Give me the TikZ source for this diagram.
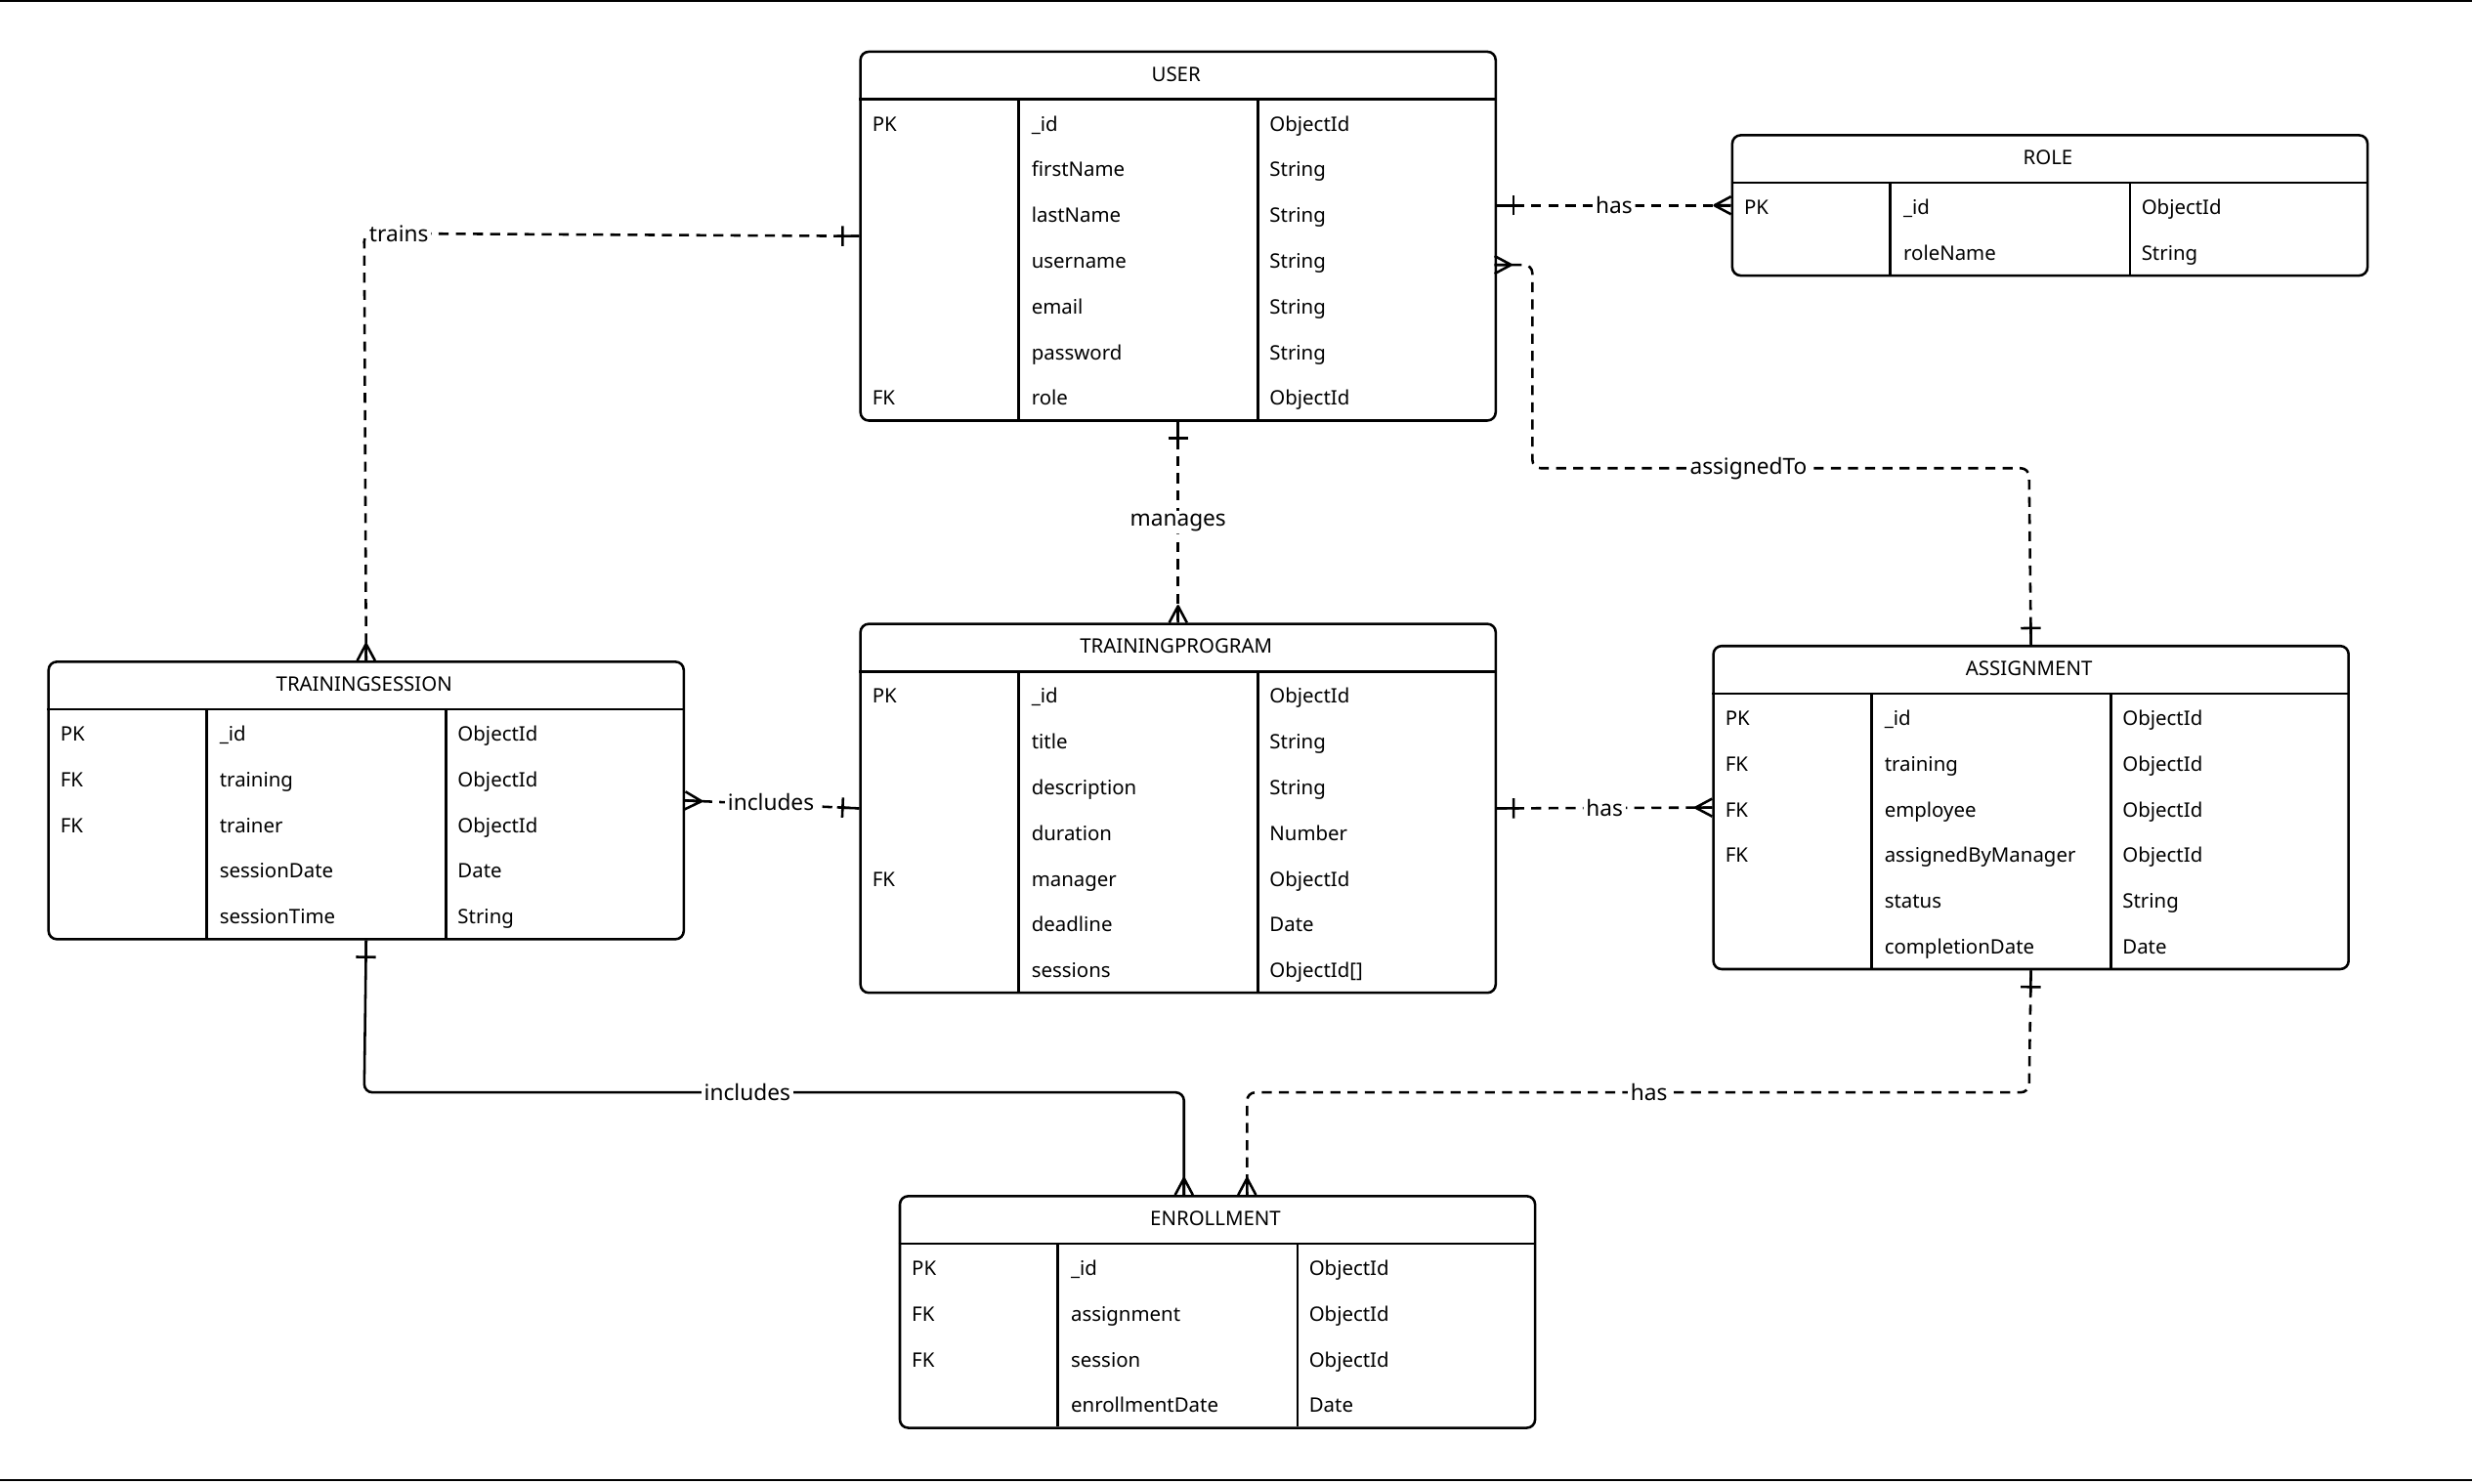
\documentclass[tikz,border=0pt]{standalone}
\usepackage{fontspec}
\setmainfont{Noto Sans}
\usetikzlibrary{calc}

% crow's foot tips
\pgfarrowsdeclare{ercrow}{ercrow}{\pgfarrowsleftextend{0pt}\pgfarrowsrightextend{0pt}}{%
  \pgfsetdash{}{0pt}\pgfsetroundjoin
  \pgfpathmoveto{\pgfpoint{0pt}{3.2pt}}
  \pgfpathlineto{\pgfpoint{-6pt}{0pt}}
  \pgfpathlineto{\pgfpoint{0pt}{-3.2pt}}
  \pgfpathmoveto{\pgfpoint{-6pt}{0pt}}
  \pgfpathlineto{\pgfpoint{0pt}{0pt}}
  \pgfusepathqstroke}
\pgfarrowsdeclare{erone}{erone}{\pgfarrowsleftextend{0pt}\pgfarrowsrightextend{0pt}}{%
  \pgfsetdash{}{0pt}
  \pgfpathmoveto{\pgfpoint{-6pt}{3.6pt}}
  \pgfpathlineto{\pgfpoint{-6pt}{-3.6pt}}
  \pgfpathmoveto{\pgfpoint{-8pt}{0pt}}
  \pgfpathlineto{\pgfpoint{0pt}{0pt}}
  \pgfusepathqstroke}

\tikzset{
  entity/.style={draw, rounded corners=3pt, line width=0.9pt, inner sep=0pt,
    anchor=north west, minimum width=8.06cm},
  cell/.style={anchor=west, inner sep=0pt, text height=1.6ex, text depth=0.4ex,
    font=\fontsize{7.2}{8}\selectfont},
  rel/.style={line width=0.9pt, rounded corners=3pt},
  dashrel/.style={rel, dash pattern=on 3.6pt off 2.6pt},
  lbl/.style={fill=white, inner sep=1pt, font=\fontsize{8}{9}\selectfont}
}

% name, title, x, y, number of rows, rows
\newcommand\entity[6]{%
  \node[entity, minimum height={(31+29*#5)*0.02cm}] (#1) at (#3,#4) {};
  \node[font=\fontsize{7.2}{8}\selectfont] at (#3+201,#4+15) {#2};
  \draw[line width=0.9pt] (#3,#4+31) -- ++(403,0);
  \draw[line width=0.9pt] (#3+101,#4+31) -- ++(0,29*#5);
  \draw[line width=0.9pt] (#3+253,#4+31) -- ++(0,29*#5);
  \foreach \k/\f/\t [count=\i] in {#6} {
    \node[cell] at (#3+8,#4+31+29*\i-14.5) {\k};
    \node[cell] at (#3+109,#4+31+29*\i-14.5) {\f};
    \node[cell] at (#3+260,#4+31+29*\i-14.5) {\t};
  }
}

\begin{document}
\begin{tikzpicture}[x=0.02cm, y=-0.02cm]
  \useasboundingbox (0,0) rectangle (1568,941);
  \draw[line width=0.8pt] (0,0.5) -- (1568,0.5);
  \draw[line width=0.8pt] (0,939) -- (1568,939);

  \entity{user}{USER}{545}{32}{7}{PK/\_id/ObjectId, /firstName/String, /lastName/String,
    /username/String, /email/String, /password/String, FK/role/ObjectId}
  \entity{role}{ROLE}{1098}{85}{2}{PK/\_id/ObjectId, /roleName/String}
  \entity{tsession}{TRAININGSESSION}{30}{419}{5}{PK/\_id/ObjectId, FK/training/ObjectId,
    FK/trainer/ObjectId, /sessionDate/Date, /sessionTime/String}
  \entity{tprogram}{TRAININGPROGRAM}{545}{395}{7}{PK/\_id/ObjectId, /title/String,
    /description/String, /duration/Number, FK/manager/ObjectId, /deadline/Date,
    /sessions/ObjectId[]}
  \entity{assign}{ASSIGNMENT}{1086}{409}{6}{PK/\_id/ObjectId, FK/training/ObjectId,
    FK/employee/ObjectId, FK/assignedByManager/ObjectId, /status/String,
    /completionDate/Date}
  \entity{enroll}{ENROLLMENT}{570}{758}{4}{PK/\_id/ObjectId, FK/assignment/ObjectId,
    FK/session/ObjectId, /enrollmentDate/Date}

  % Relations
  \coordinate (trainsC) at (231,148);
  \draw[dashrel, ercrow-erone] (tsession.north) -- (trainsC) -- (user.west);
  \node[lbl] at (253,148) {trains};

  \draw[dashrel, erone-ercrow] (user.south) -- node[lbl] {manages} (tprogram.north);

  \draw[dashrel, erone-ercrow] (user.east |- role.west) -- node[lbl] {has} (role.west);

  \coordinate (uA) at (948,168);
  \draw[dashrel, ercrow-erone] (uA) -- (972,168) -- (972,297) -- (1287,297) -- (assign.north);
  \node[lbl] at (1109,297) {assignedTo};

  \draw[dashrel, ercrow-erone] (tsession.east) -- (tprogram.west);
  \node[lbl] at (489,509) {includes};

  \draw[dashrel, erone-ercrow] (tprogram.east) -- node[lbl] {has} (assign.west);

  \coordinate (eL) at (751,758);
  \draw[rel, erone-ercrow] (tsession.south) -- (231,693) -- (751,693) -- (eL);
  \node[lbl] at (474,693) {includes};

  \coordinate (eR) at (791,758);
  \draw[dashrel, erone-ercrow] (assign.south) -- (1287,693) -- (791,693) -- (eR);
  \node[lbl] at (1046,693) {has};
\end{tikzpicture}
\end{document}
